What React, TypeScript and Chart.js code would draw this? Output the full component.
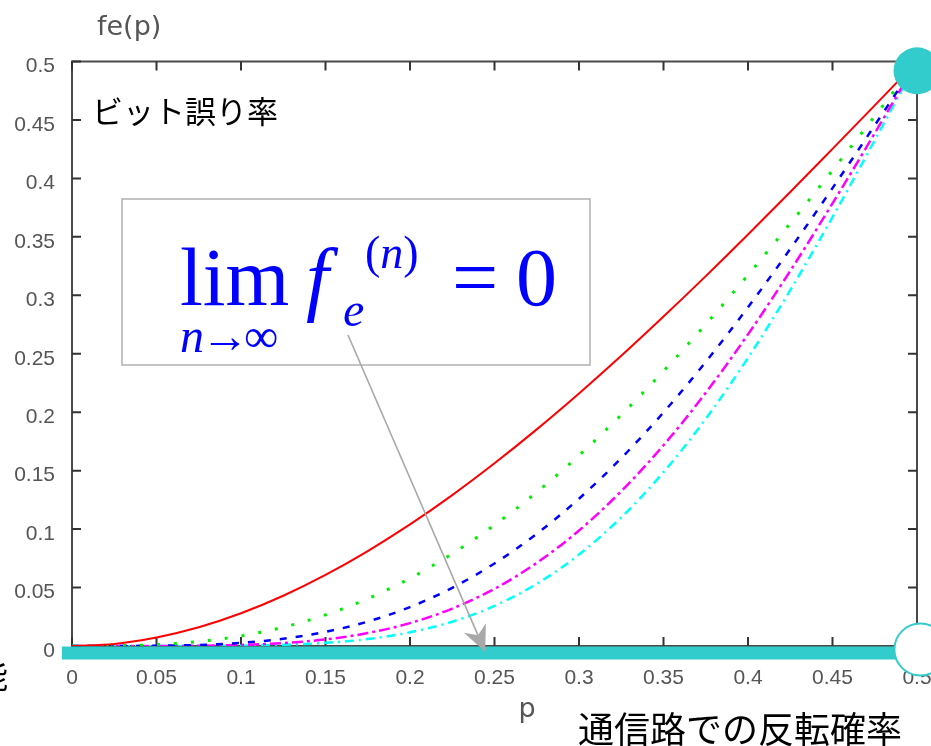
import React, { useEffect, useRef } from 'react';
import { Chart, registerables } from 'chart.js';

Chart.register(...registerables);

// ---- data ----
const P = [0, 0.025, 0.05, 0.075, 0.1, 0.125, 0.15, 0.175, 0.2, 0.225, 0.25, 0.275, 0.3, 0.325, 0.35, 0.375, 0.4, 0.425, 0.45, 0.475, 0.5];
const FE_N3 = [0, 0.0018, 0.0073, 0.016, 0.028, 0.043, 0.0608, 0.0812, 0.104, 0.1291, 0.1563, 0.1853, 0.216, 0.2482, 0.2818, 0.3164, 0.352, 0.3883, 0.4253, 0.4625, 0.5];
const FE_N5 = [0, 0.0002, 0.0012, 0.0038, 0.0086, 0.0161, 0.0266, 0.0405, 0.0579, 0.0789, 0.1035, 0.1316, 0.1631, 0.1977, 0.2352, 0.2752, 0.3174, 0.3615, 0.4069, 0.4532, 0.5];
const FE_N7 = [0, 0.0, 0.0002, 0.0009, 0.0027, 0.0062, 0.0121, 0.0209, 0.0333, 0.0498, 0.0706, 0.096, 0.126, 0.1607, 0.1998, 0.243, 0.2898, 0.3396, 0.3917, 0.4454, 0.5];
const FE_N9 = [0, 0, 0.0, 0.0002, 0.0009, 0.0025, 0.0056, 0.0111, 0.0196, 0.032, 0.0489, 0.0711, 0.0988, 0.1324, 0.1717, 0.2166, 0.2666, 0.3209, 0.3786, 0.4387, 0.5];
const FE_N11 = [0, 0, 0, 0.0001, 0.0003, 0.001, 0.0027, 0.0059, 0.0117, 0.0208, 0.0343, 0.0532, 0.0782, 0.11, 0.1487, 0.1943, 0.2465, 0.3044, 0.3669, 0.4326, 0.5];

const X_MIN = 0;
const X_MAX = 0.5;
const Y_MIN = 0;
const Y_MAX = 0.5;
const TICK_STEP = 0.05;

const X_TITLE = 'p';
const Y_TITLE = 'fe(p)';
const LABEL_TOP = 'ビット誤り率';
const LABEL_BOTTOM = '通信路での反転確率';
const LABEL_CUT = '能';

// teal baseline bar and the two end markers
const BAR_X = [-0.006, 0.5];
const BAR_Y = [-0.006, -0.006];
const START_MARK = [{ x: 0.5, y: 0.492 }];
const END_MARK = [{ x: 0.502, y: -0.003 }];
const ARROW_TIP = { x: 0.2445, y: -0.005 };

const TEAL = '#33CCCC';

const toXY = (ys: number[]) => P.map((p, i) => ({ x: p, y: ys[i] }));
const fmtTick = (v: any) => String(+Number(v).toFixed(4));

const decorPlugin = {
  id: 'decor',
  beforeDatasetsDraw(chart: any) {
    const { ctx, chartArea: a, scales } = chart;
    ctx.save();
    // frame
    ctx.strokeStyle = '#4a4a4a';
    ctx.lineWidth = 2;
    ctx.strokeRect(a.left, a.top, a.right - a.left, a.bottom - a.top);
    // inward ticks
    ctx.strokeStyle = '#333';
    ctx.lineWidth = 2;
    const tl = 9;
    scales.x.ticks.forEach((t: any) => {
      const px = scales.x.getPixelForValue(t.value);
      ctx.beginPath();
      ctx.moveTo(px, a.bottom);
      ctx.lineTo(px, a.bottom - tl);
      ctx.moveTo(px, a.top);
      ctx.lineTo(px, a.top + tl);
      ctx.stroke();
    });
    scales.y.ticks.forEach((t: any) => {
      const py = scales.y.getPixelForValue(t.value);
      ctx.beginPath();
      ctx.moveTo(a.left, py);
      ctx.lineTo(a.left + tl, py);
      ctx.moveTo(a.right, py);
      ctx.lineTo(a.right - tl, py);
      ctx.stroke();
    });
    ctx.restore();
  },
  afterDatasetsDraw(chart: any) {
    const { ctx, scales } = chart;
    ctx.save();
    // axis titles
    ctx.fillStyle = '#555';
    ctx.textBaseline = 'middle';
    ctx.textAlign = 'left';
    ctx.font = '27px "DejaVu Sans", sans-serif';
    ctx.fillText(Y_TITLE, 97, 28);
    ctx.textAlign = 'center';
    ctx.fillText(X_TITLE, 527, 710);

    // Japanese labels
    ctx.fillStyle = '#000';
    ctx.textAlign = 'left';
    ctx.font = '31px "Noto Sans CJK JP", sans-serif';
    ctx.fillText(LABEL_TOP, 92, 111);
    ctx.font = '36px "Noto Sans CJK JP", sans-serif';
    ctx.fillText(LABEL_BOTTOM, 578, 729);
    ctx.textAlign = 'right';
    ctx.font = '32px "Noto Sans CJK JP", sans-serif';
    ctx.fillText(LABEL_CUT, 8, 676);

    // formula box
    ctx.fillStyle = '#fff';
    ctx.fillRect(122, 199, 468, 166);
    ctx.strokeStyle = '#b0b0b0';
    ctx.lineWidth = 1.5;
    ctx.strokeRect(122, 199, 468, 166);

    ctx.fillStyle = '#0000ff';
    ctx.textAlign = 'left';
    ctx.textBaseline = 'alphabetic';
    const serif = '"Liberation Serif", "Times New Roman", serif';
    ctx.font = `82px ${serif}`;
    ctx.fillText('lim', 180, 305);
    ctx.font = `italic 48px ${serif}`;
    ctx.fillText('n', 180, 352);
    const wn = ctx.measureText('n').width;
    ctx.font = `48px ${serif}`;
    ctx.fillText('→', 180 + wn - 3, 352);
    const wa = ctx.measureText('→').width;
    ctx.fillText('∞', 180 + wn + wa - 8, 352);
    ctx.font = `italic 82px ${serif}`;
    ctx.fillText('f', 306, 305);
    ctx.font = `italic 48px ${serif}`;
    ctx.fillText('e', 343, 326);
    ctx.font = `46px ${serif}`;
    ctx.fillText('(', 365, 268);
    let x = 365 + ctx.measureText('(').width;
    ctx.font = `italic 46px ${serif}`;
    ctx.fillText('n', x, 268);
    x += ctx.measureText('n').width;
    ctx.font = `46px ${serif}`;
    ctx.fillText(')', x, 268);
    ctx.font = `82px ${serif}`;
    ctx.fillText('=', 452, 305);
    ctx.fillText('0', 516, 305);

    // arrow
    const sx = 348, sy = 335;
    const tx = scales.x.getPixelForValue(ARROW_TIP.x);
    const ty = scales.y.getPixelForValue(ARROW_TIP.y);
    const dx = tx - sx, dy = ty - sy;
    const len = Math.hypot(dx, dy);
    const ux = dx / len, uy = dy / len;
    const nx = -uy, ny = ux;
    const headLen = 26, headW = 12, notch = 18;
    ctx.strokeStyle = '#a8a8a8';
    ctx.lineWidth = 1.6;
    ctx.beginPath();
    ctx.moveTo(sx, sy);
    ctx.lineTo(tx - ux * notch, ty - uy * notch);
    ctx.stroke();
    ctx.fillStyle = '#a8a8a8';
    ctx.beginPath();
    ctx.moveTo(tx, ty);
    ctx.lineTo(tx - ux * headLen + nx * headW, ty - uy * headLen + ny * headW);
    ctx.lineTo(tx - ux * notch, ty - uy * notch);
    ctx.lineTo(tx - ux * headLen - nx * headW, ty - uy * headLen - ny * headW);
    ctx.closePath();
    ctx.fill();
    ctx.restore();
  },
};

export default function App() {
  const ref = useRef<HTMLCanvasElement | null>(null);

  useEffect(() => {
    if (!ref.current) return;
    const tickFont = { family: '"Liberation Sans", Arial, sans-serif', size: 21 };
    const curve = (ys: number[], color: string, dash: number[], width: number, order: number) => ({
      data: toXY(ys),
      borderColor: color,
      backgroundColor: color,
      borderWidth: width,
      borderDash: dash,
      pointRadius: 0,
      fill: false,
      cubicInterpolationMode: 'monotone' as const,
      order,
    });
    const chart = new Chart(ref.current, {
      type: 'line',
      data: {
        datasets: [
          {
            data: START_MARK,
            showLine: false,
            pointRadius: 23.5,
            pointBackgroundColor: TEAL,
            pointBorderColor: TEAL,
            pointBorderWidth: 0,
            clip: false,
            order: -3,
          } as any,
          {
            data: END_MARK,
            showLine: false,
            pointRadius: 26,
            pointBackgroundColor: '#ffffff',
            pointBorderColor: TEAL,
            pointBorderWidth: 2,
            clip: false,
            order: -3,
          } as any,
          {
            data: BAR_X.map((v, i) => ({ x: v, y: BAR_Y[i] })),
            borderColor: TEAL,
            borderWidth: 13,
            borderCapStyle: 'butt',
            pointRadius: 0,
            clip: false,
            order: -2,
          } as any,
          curve(FE_N3, '#ff0000', [], 2, 1),
          curve(FE_N5, '#00ee00', [3, 14], 3, 2),
          curve(FE_N7, '#0000ff', [7, 9], 2.5, 3),
          curve(FE_N9, '#ff00ff', [11, 4, 3, 4], 2.5, 4),
          curve(FE_N11, '#00ffff', [9, 5, 2, 5], 2.5, 5),
        ],
      },
      options: {
        animation: false,
        responsive: false,
        layout: { autoPadding: false, padding: { top: 61.5, right: 14, left: 0, bottom: 0 } },
        plugins: { legend: { display: false }, tooltip: { enabled: false } },
        scales: {
          x: {
            type: 'linear',
            min: X_MIN,
            max: X_MAX,
            ticks: { stepSize: TICK_STEP, padding: 20, color: '#555', font: tickFont, maxRotation: 0, autoSkip: false, callback: fmtTick },
            grid: { display: false, drawTicks: false },
            border: { display: false },
            afterFit: (s: any) => { s.height = 100; s.paddingLeft = 0; s.paddingRight = 0; },
          },
          y: {
            type: 'linear',
            min: Y_MIN,
            max: Y_MAX,
            ticks: { stepSize: TICK_STEP, padding: 17, labelOffset: 5, color: '#555', font: tickFont, autoSkip: false, callback: fmtTick },
            grid: { display: false, drawTicks: false },
            border: { display: false },
            afterFit: (s: any) => { s.width = 72; s.paddingTop = 0; s.paddingBottom = 0; },
          },
        },
      },
      plugins: [decorPlugin],
    });
    return () => chart.destroy();
  }, []);

  return (
    <div style={{ position: 'absolute', left: 0, top: 0, width: 931, height: 746, background: '#fff' }}>
      <canvas ref={ref} width={931} height={746} style={{ display: 'block' }} />
    </div>
  );
}
